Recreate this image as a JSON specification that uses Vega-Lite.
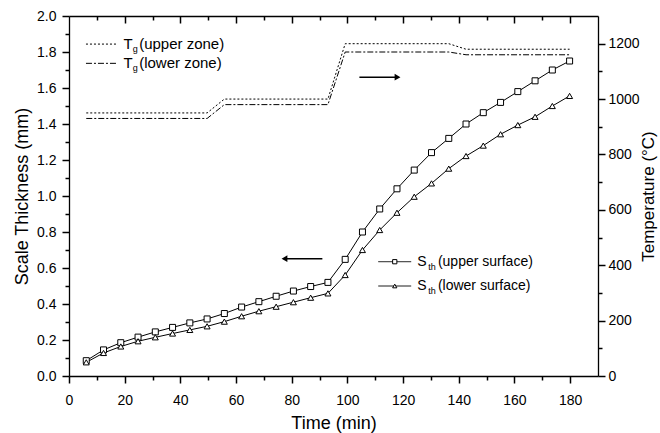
{
  "$schema": "https://vega.github.io/schema/vega-lite/v6.json",
  "width": 529,
  "height": 360,
  "autosize": {"type": "none"},
  "padding": {"left": 69, "top": 16, "right": 62, "bottom": 57},
  "background": "white",
  "config": {"view": {"stroke": null}, "font": "Liberation Sans"},
  "datasets": {
    "sth": [
      {"time": 6.2, "key": "upper surface", "thickness": 0.085},
      {"time": 12.4, "key": "upper surface", "thickness": 0.145},
      {"time": 18.6, "key": "upper surface", "thickness": 0.185},
      {"time": 24.8, "key": "upper surface", "thickness": 0.216},
      {"time": 31.0, "key": "upper surface", "thickness": 0.245},
      {"time": 37.2, "key": "upper surface", "thickness": 0.27},
      {"time": 43.4, "key": "upper surface", "thickness": 0.295},
      {"time": 49.6, "key": "upper surface", "thickness": 0.317},
      {"time": 55.8, "key": "upper surface", "thickness": 0.347},
      {"time": 62.0, "key": "upper surface", "thickness": 0.383},
      {"time": 68.2, "key": "upper surface", "thickness": 0.413},
      {"time": 74.4, "key": "upper surface", "thickness": 0.443},
      {"time": 80.6, "key": "upper surface", "thickness": 0.472},
      {"time": 86.8, "key": "upper surface", "thickness": 0.497},
      {"time": 93.0, "key": "upper surface", "thickness": 0.52},
      {"time": 99.2, "key": "upper surface", "thickness": 0.648},
      {"time": 105.4, "key": "upper surface", "thickness": 0.8},
      {"time": 111.6, "key": "upper surface", "thickness": 0.928},
      {"time": 117.8, "key": "upper surface", "thickness": 1.04},
      {"time": 124.0, "key": "upper surface", "thickness": 1.144},
      {"time": 130.2, "key": "upper surface", "thickness": 1.241},
      {"time": 136.4, "key": "upper surface", "thickness": 1.32},
      {"time": 142.6, "key": "upper surface", "thickness": 1.4},
      {"time": 148.8, "key": "upper surface", "thickness": 1.463},
      {"time": 155.0, "key": "upper surface", "thickness": 1.52},
      {"time": 161.2, "key": "upper surface", "thickness": 1.58},
      {"time": 167.4, "key": "upper surface", "thickness": 1.64},
      {"time": 173.6, "key": "upper surface", "thickness": 1.7},
      {"time": 179.8, "key": "upper surface", "thickness": 1.75},
      {"time": 6.2, "key": "lower surface", "thickness": 0.076},
      {"time": 12.4, "key": "lower surface", "thickness": 0.128},
      {"time": 18.6, "key": "lower surface", "thickness": 0.164},
      {"time": 24.8, "key": "lower surface", "thickness": 0.193},
      {"time": 31.0, "key": "lower surface", "thickness": 0.215},
      {"time": 37.2, "key": "lower surface", "thickness": 0.236},
      {"time": 43.4, "key": "lower surface", "thickness": 0.256},
      {"time": 49.6, "key": "lower surface", "thickness": 0.276},
      {"time": 55.8, "key": "lower surface", "thickness": 0.302},
      {"time": 62.0, "key": "lower surface", "thickness": 0.332},
      {"time": 68.2, "key": "lower surface", "thickness": 0.36},
      {"time": 74.4, "key": "lower surface", "thickness": 0.385},
      {"time": 80.6, "key": "lower surface", "thickness": 0.41},
      {"time": 86.8, "key": "lower surface", "thickness": 0.435},
      {"time": 93.0, "key": "lower surface", "thickness": 0.459},
      {"time": 99.2, "key": "lower surface", "thickness": 0.561},
      {"time": 105.4, "key": "lower surface", "thickness": 0.7},
      {"time": 111.6, "key": "lower surface", "thickness": 0.811},
      {"time": 117.8, "key": "lower surface", "thickness": 0.907},
      {"time": 124.0, "key": "lower surface", "thickness": 0.996},
      {"time": 130.2, "key": "lower surface", "thickness": 1.07},
      {"time": 136.4, "key": "lower surface", "thickness": 1.152},
      {"time": 142.6, "key": "lower surface", "thickness": 1.222},
      {"time": 148.8, "key": "lower surface", "thickness": 1.28},
      {"time": 155.0, "key": "lower surface", "thickness": 1.343},
      {"time": 161.2, "key": "lower surface", "thickness": 1.394},
      {"time": 167.4, "key": "lower surface", "thickness": 1.44},
      {"time": 173.6, "key": "lower surface", "thickness": 1.5},
      {"time": 179.8, "key": "lower surface", "thickness": 1.556}
    ],
    "tg": [
      {"time": 6.2, "key": "upper zone", "temp": 950},
      {"time": 49.6, "key": "upper zone", "temp": 950},
      {"time": 55.8, "key": "upper zone", "temp": 1000},
      {"time": 93.0, "key": "upper zone", "temp": 1000},
      {"time": 99.2, "key": "upper zone", "temp": 1200},
      {"time": 136.4, "key": "upper zone", "temp": 1200},
      {"time": 142.6, "key": "upper zone", "temp": 1180},
      {"time": 179.8, "key": "upper zone", "temp": 1180},
      {"time": 6.2, "key": "lower zone", "temp": 930},
      {"time": 49.6, "key": "lower zone", "temp": 930},
      {"time": 55.8, "key": "lower zone", "temp": 980},
      {"time": 93.0, "key": "lower zone", "temp": 980},
      {"time": 99.2, "key": "lower zone", "temp": 1170},
      {"time": 136.4, "key": "lower zone", "temp": 1170},
      {"time": 142.6, "key": "lower zone", "temp": 1160},
      {"time": 179.8, "key": "lower zone", "temp": 1160}
    ],
    "legendLines": [
      {"key": "upper zone", "t1": 6.1, "t2": 17.2, "mm": 1.844},
      {"key": "lower zone", "t1": 6.1, "t2": 17.2, "mm": 1.737},
      {"key": "upper surface", "t1": 111.1, "t2": 122.9, "mm": 0.635},
      {"key": "lower surface", "t1": 111.1, "t2": 122.9, "mm": 0.5}
    ],
    "legendMarks": [
      {"key": "upper surface", "time": 117.0, "mm": 0.635},
      {"key": "lower surface", "time": 117.0, "mm": 0.5}
    ],
    "legendTextTop": [
      {"time": 19.6, "mm": 1.844, "text": "T"},
      {"time": 25.2, "mm": 1.844, "text": "(upper zone)"},
      {"time": 19.6, "mm": 1.737, "text": "T"},
      {"time": 25.2, "mm": 1.737, "text": "(lower zone)"}
    ],
    "legendText": [
      {"time": 125.1, "mm": 0.635, "text": "S"},
      {"time": 132.5, "mm": 0.635, "text": "(upper surface)"},
      {"time": 125.1, "mm": 0.5, "text": "S"},
      {"time": 132.5, "mm": 0.5, "text": "(lower surface)"}
    ],
    "legendSub": [
      {"time": 22.9, "mm": 1.844, "text": "g"},
      {"time": 22.9, "mm": 1.737, "text": "g"},
      {"time": 129.0, "mm": 0.635, "text": "th"},
      {"time": 129.0, "mm": 0.5, "text": "th"}
    ],
    "arrows": [
      {"key": "left", "t1": 77.4, "t2": 91.0, "mm": 0.652},
      {"key": "right", "t1": 104.3, "t2": 118.0, "mm": 1.66}
    ]
  },
  "resolve": {"scale": {"x": "independent", "y": "independent"}},
  "layer": [
    {
      "data": {"name": "sth"},
      "mark": {"type": "line", "color": "black", "strokeWidth": 1},
      "encoding": {
        "x": {
          "field": "time", "type": "quantitative",
          "scale": {"domain": [0, 190], "nice": false, "zero": false},
          "axis": {
            "orient": "bottom", "title": "Time (min)",
            "values": [0, 20, 40, 60, 80, 100, 120, 140, 160, 180],
            "grid": false, "ticks": true, "tickSize": 7, "tickWidth": 1.5, "tickColor": "black",
            "domainColor": "black", "domainWidth": 1.3,
            "labelColor": "black", "labelFont": "Liberation Sans", "labelFontSize": 14, "labelPadding": 10,
            "labelOverlap": false, "labelFlush": false,
            "titleFont": "Liberation Sans", "titleFontSize": 18, "titleFontWeight": "normal", "titleColor": "black", "titlePadding": 7
          }
        },
        "y": {
          "field": "thickness", "type": "quantitative",
          "scale": {"domain": [0, 2], "nice": false, "zero": false},
          "axis": {
            "orient": "left", "title": "Scale Thickness (mm)",
            "values": [0, 0.2, 0.4, 0.6, 0.8, 1.0, 1.2, 1.4, 1.6, 1.8, 2.0], "format": ".1f",
            "grid": false, "ticks": true, "tickSize": 7, "tickWidth": 1.5, "tickColor": "black",
            "domainColor": "black", "domainWidth": 1.3,
            "labelColor": "black", "labelFont": "Liberation Sans", "labelFontSize": 14, "labelPadding": 6,
            "labelOverlap": false, "labelFlush": false,
            "titleFont": "Liberation Sans", "titleFontSize": 18, "titleFontWeight": "normal", "titleColor": "black", "titlePadding": 5
          }
        },
        "detail": {"field": "key"}
      }
    },
    {
      "data": {"name": "sth"},
      "mark": {"type": "point", "filled": true, "fill": "white", "stroke": "black", "strokeWidth": 1, "size": 36, "opacity": 1},
      "encoding": {
        "x": {"field": "time", "type": "quantitative", "scale": {"domain": [0, 190], "nice": false, "zero": false}, "axis": null},
        "y": {"field": "thickness", "type": "quantitative", "scale": {"domain": [0, 2], "nice": false, "zero": false}, "axis": null},
        "shape": {
          "field": "key", "type": "nominal", "legend": null,
          "scale": {"domain": ["upper surface", "lower surface"], "range": ["square", "triangle-up"]}
        }
      }
    },
    {
      "data": {"name": "legendLines"},
      "mark": {"type": "rule", "color": "black", "strokeWidth": 1},
      "encoding": {
        "x": {"field": "t1", "type": "quantitative", "scale": {"domain": [0, 190], "nice": false, "zero": false}, "axis": null},
        "x2": {"field": "t2"},
        "y": {"field": "mm", "type": "quantitative", "scale": {"domain": [0, 2], "nice": false, "zero": false}, "axis": null},
        "strokeDash": {
          "field": "key", "type": "nominal", "legend": null,
          "scale": {"domain": ["upper zone", "lower zone", "upper surface", "lower surface"], "range": [[2, 2], [6, 2, 2, 2], [1, 0], [1, 0]]}
        }
      }
    },
    {
      "data": {"name": "legendMarks"},
      "mark": {"type": "point", "filled": true, "fill": "white", "stroke": "black", "strokeWidth": 1, "size": 18, "opacity": 1},
      "encoding": {
        "x": {"field": "time", "type": "quantitative", "scale": {"domain": [0, 190], "nice": false, "zero": false}, "axis": null},
        "y": {"field": "mm", "type": "quantitative", "scale": {"domain": [0, 2], "nice": false, "zero": false}, "axis": null},
        "shape": {"field": "key", "type": "nominal", "legend": null}
      }
    },
    {
      "data": {"name": "legendTextTop"},
      "mark": {"type": "text", "align": "left", "baseline": "middle", "fontSize": 15, "font": "Liberation Sans", "color": "black"},
      "encoding": {
        "x": {"field": "time", "type": "quantitative", "scale": {"domain": [0, 190], "nice": false, "zero": false}, "axis": null},
        "y": {"field": "mm", "type": "quantitative", "scale": {"domain": [0, 2], "nice": false, "zero": false}, "axis": null},
        "text": {"field": "text"}
      }
    },
    {
      "data": {"name": "legendText"},
      "mark": {"type": "text", "align": "left", "baseline": "middle", "fontSize": 14, "font": "Liberation Sans", "color": "black"},
      "encoding": {
        "x": {"field": "time", "type": "quantitative", "scale": {"domain": [0, 190], "nice": false, "zero": false}, "axis": null},
        "y": {"field": "mm", "type": "quantitative", "scale": {"domain": [0, 2], "nice": false, "zero": false}, "axis": null},
        "text": {"field": "text"}
      }
    },
    {
      "data": {"name": "legendSub"},
      "mark": {"type": "text", "align": "left", "baseline": "middle", "fontSize": 9, "dy": 5, "font": "Liberation Sans", "color": "black"},
      "encoding": {
        "x": {"field": "time", "type": "quantitative", "scale": {"domain": [0, 190], "nice": false, "zero": false}, "axis": null},
        "y": {"field": "mm", "type": "quantitative", "scale": {"domain": [0, 2], "nice": false, "zero": false}, "axis": null},
        "text": {"field": "text"}
      }
    },
    {
      "data": {"name": "arrows"},
      "mark": {"type": "rule", "color": "black", "strokeWidth": 1.5},
      "encoding": {
        "x": {"field": "t1", "type": "quantitative", "scale": {"domain": [0, 190], "nice": false, "zero": false}, "axis": null},
        "x2": {"field": "t2"},
        "y": {"field": "mm", "type": "quantitative", "scale": {"domain": [0, 2], "nice": false, "zero": false}, "axis": null}
      }
    },
    {
      "data": {"name": "arrows"},
      "transform": [{"filter": "datum.key == 'left'"}],
      "mark": {"type": "point", "shape": "triangle-left", "filled": true, "color": "black", "size": 45, "opacity": 1},
      "encoding": {
        "x": {"field": "t1", "type": "quantitative", "scale": {"domain": [0, 190], "nice": false, "zero": false}, "axis": null},
        "y": {"field": "mm", "type": "quantitative", "scale": {"domain": [0, 2], "nice": false, "zero": false}, "axis": null}
      }
    },
    {
      "data": {"name": "arrows"},
      "transform": [{"filter": "datum.key == 'right'"}],
      "mark": {"type": "point", "shape": "triangle-right", "filled": true, "color": "black", "size": 45, "opacity": 1},
      "encoding": {
        "x": {"field": "t2", "type": "quantitative", "scale": {"domain": [0, 190], "nice": false, "zero": false}, "axis": null},
        "y": {"field": "mm", "type": "quantitative", "scale": {"domain": [0, 2], "nice": false, "zero": false}, "axis": null}
      }
    },
    {
      "data": {"name": "tg"},
      "mark": {"type": "line", "color": "black", "strokeWidth": 1},
      "encoding": {
        "x": {
          "field": "time", "type": "quantitative",
          "scale": {"domain": [0, 190], "nice": false, "zero": false},
          "axis": {
            "orient": "top", "title": null, "labels": false,
            "values": [20, 40, 60, 80, 100, 120, 140, 160, 180],
            "grid": false, "ticks": true, "tickSize": -7, "tickWidth": 1.5, "tickColor": "black",
            "domainColor": "black", "domainWidth": 1.3
          }
        },
        "y": {
          "field": "temp", "type": "quantitative",
          "scale": {"domain": [0, 1300], "nice": false, "zero": false},
          "axis": {
            "orient": "right", "title": "Temperature (°C)", "titleAngle": 270, "titleBaseline": "top",
            "values": [0, 200, 400, 600, 800, 1000, 1200], "format": "d",
            "grid": false, "ticks": true, "tickSize": 7, "tickWidth": 1.5, "tickColor": "black",
            "domainColor": "black", "domainWidth": 1.3,
            "labelColor": "black", "labelFont": "Liberation Sans", "labelFontSize": 14, "labelPadding": 3,
            "labelOverlap": false, "labelFlush": false,
            "titleFont": "Liberation Sans", "titleFontSize": 17, "titleFontWeight": "normal", "titleColor": "black", "titlePadding": 1
          }
        },
        "strokeDash": {"field": "key", "type": "nominal", "legend": null}
      }
    },
    {
      "data": {"name": "tg"},
      "mark": {"type": "point", "opacity": 0},
      "encoding": {
        "x": {
          "field": "time", "type": "quantitative",
          "scale": {"domain": [0, 190], "nice": false, "zero": false},
          "axis": {
            "orient": "bottom", "title": null, "labels": false, "domain": false, "grid": false,
            "ticks": true, "tickSize": 4, "tickWidth": 1.5, "tickColor": "black",
            "values": [10, 30, 50, 70, 90, 110, 130, 150, 170]
          }
        },
        "y": {
          "field": "temp", "type": "quantitative",
          "scale": {"domain": [0, 2], "nice": false, "zero": false},
          "axis": {
            "orient": "left", "title": null, "labels": false, "domain": false, "grid": false,
            "ticks": true, "tickSize": 4, "tickWidth": 1.5, "tickColor": "black",
            "values": [0.1, 0.3, 0.5, 0.7, 0.9, 1.1, 1.3, 1.5, 1.7, 1.9]
          }
        }
      }
    },
    {
      "data": {"name": "tg"},
      "mark": {"type": "point", "opacity": 0},
      "encoding": {
        "x": {
          "field": "time", "type": "quantitative",
          "scale": {"domain": [0, 190], "nice": false, "zero": false},
          "axis": {
            "orient": "top", "title": null, "labels": false, "domain": false, "grid": false,
            "ticks": true, "tickSize": -4, "tickWidth": 1.5, "tickColor": "black",
            "values": [10, 30, 50, 70, 90, 110, 130, 150, 170]
          }
        },
        "y": {
          "field": "temp", "type": "quantitative",
          "scale": {"domain": [0, 1300], "nice": false, "zero": false},
          "axis": {
            "orient": "right", "title": null, "labels": false, "domain": false, "grid": false,
            "ticks": true, "tickSize": 4, "tickWidth": 1.5, "tickColor": "black",
            "values": [100, 300, 500, 700, 900, 1100]
          }
        }
      }
    }
  ]
}
